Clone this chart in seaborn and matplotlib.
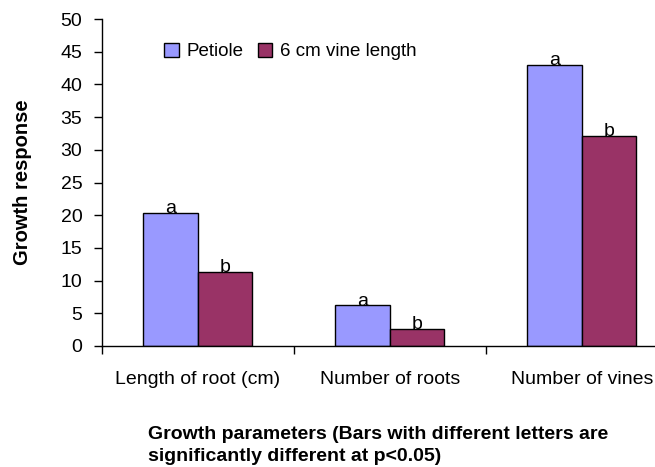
import matplotlib
matplotlib.use('Agg')
import matplotlib.pyplot as plt
import seaborn as sns
import pandas as pd

params = ['Length of root (cm)', 'Number of roots', 'Number of vines']
petiole = [20.4, 6.2, 43.0]
vine_6cm = [11.3, 2.6, 32.1]
petiole_letters = ['a', 'a', 'a']
vine_letters = ['b', 'b', 'b']

df = pd.DataFrame({
    'param': params * 2,
    'value': petiole + vine_6cm,
    'treatment': ['Petiole'] * 3 + ['6 cm vine length'] * 3,
})

sns.set_style('white', {'text.color': 'black', 'xtick.color': 'black',
                        'ytick.color': 'black', 'axes.labelcolor': 'black'})
plt.rcParams['font.family'] = ['Liberation Sans', 'DejaVu Sans']

fig = plt.figure(figsize=(6.55, 4.67), dpi=100)
ax = fig.add_axes([101.7 / 655, 1 - 346 / 467, 576 / 655, 327 / 467])

sns.barplot(data=df, x='param', y='value', hue='treatment',
            palette=['#9999FF', '#993366'], width=0.57, gap=0,
            edgecolor='black', linewidth=1, saturation=1, ax=ax)

for cont, labs in zip(ax.containers, [petiole_letters, vine_letters]):
    ax.bar_label(cont, labels=labs, padding=-3, fontsize=14, color='black')

ax.set_ylim(0, 50)
ax.set_xlim(-0.5, 2.5)
ax.set_yticks(range(0, 51, 5))
ax.tick_params(axis='y', direction='out', length=6, width=1, labelsize=14, pad=8, left=True)
ax.tick_params(axis='x', which='major', length=0, labelsize=14, pad=18)
ax.set_xticks([-0.5, 0.5, 1.5, 2.5], minor=True)
ax.tick_params(axis='x', which='minor', direction='out', length=6, width=1, bottom=True)

for s in ['top', 'right']:
    ax.spines[s].set_visible(False)
for s in ['left', 'bottom']:
    ax.spines[s].set_color('black')
    ax.spines[s].set_linewidth(1)

ax.set_ylabel('Growth response', fontsize=14.5, fontweight='bold', color='black')
ax.yaxis.set_label_coords(-0.121, 0.5)
ax.set_xlabel('')
fig.text(148 / 655, 1 - 426 / 467,
         'Growth parameters (Bars with different letters are\nsignificantly different at p<0.05)',
         fontsize=14, fontweight='bold', ha='left', va='top', linespacing=1.35,
         color='black')

leg = ax.legend(loc='center left', bbox_to_anchor=(0.096, 0.9), ncol=2, frameon=False,
                fontsize=13.5, handlelength=0.75, handleheight=0.75, handletextpad=0.4,
                columnspacing=0.8, borderaxespad=0)
for t in leg.get_texts():
    t.set_color('black')

fig.savefig('out.png', dpi=100)
